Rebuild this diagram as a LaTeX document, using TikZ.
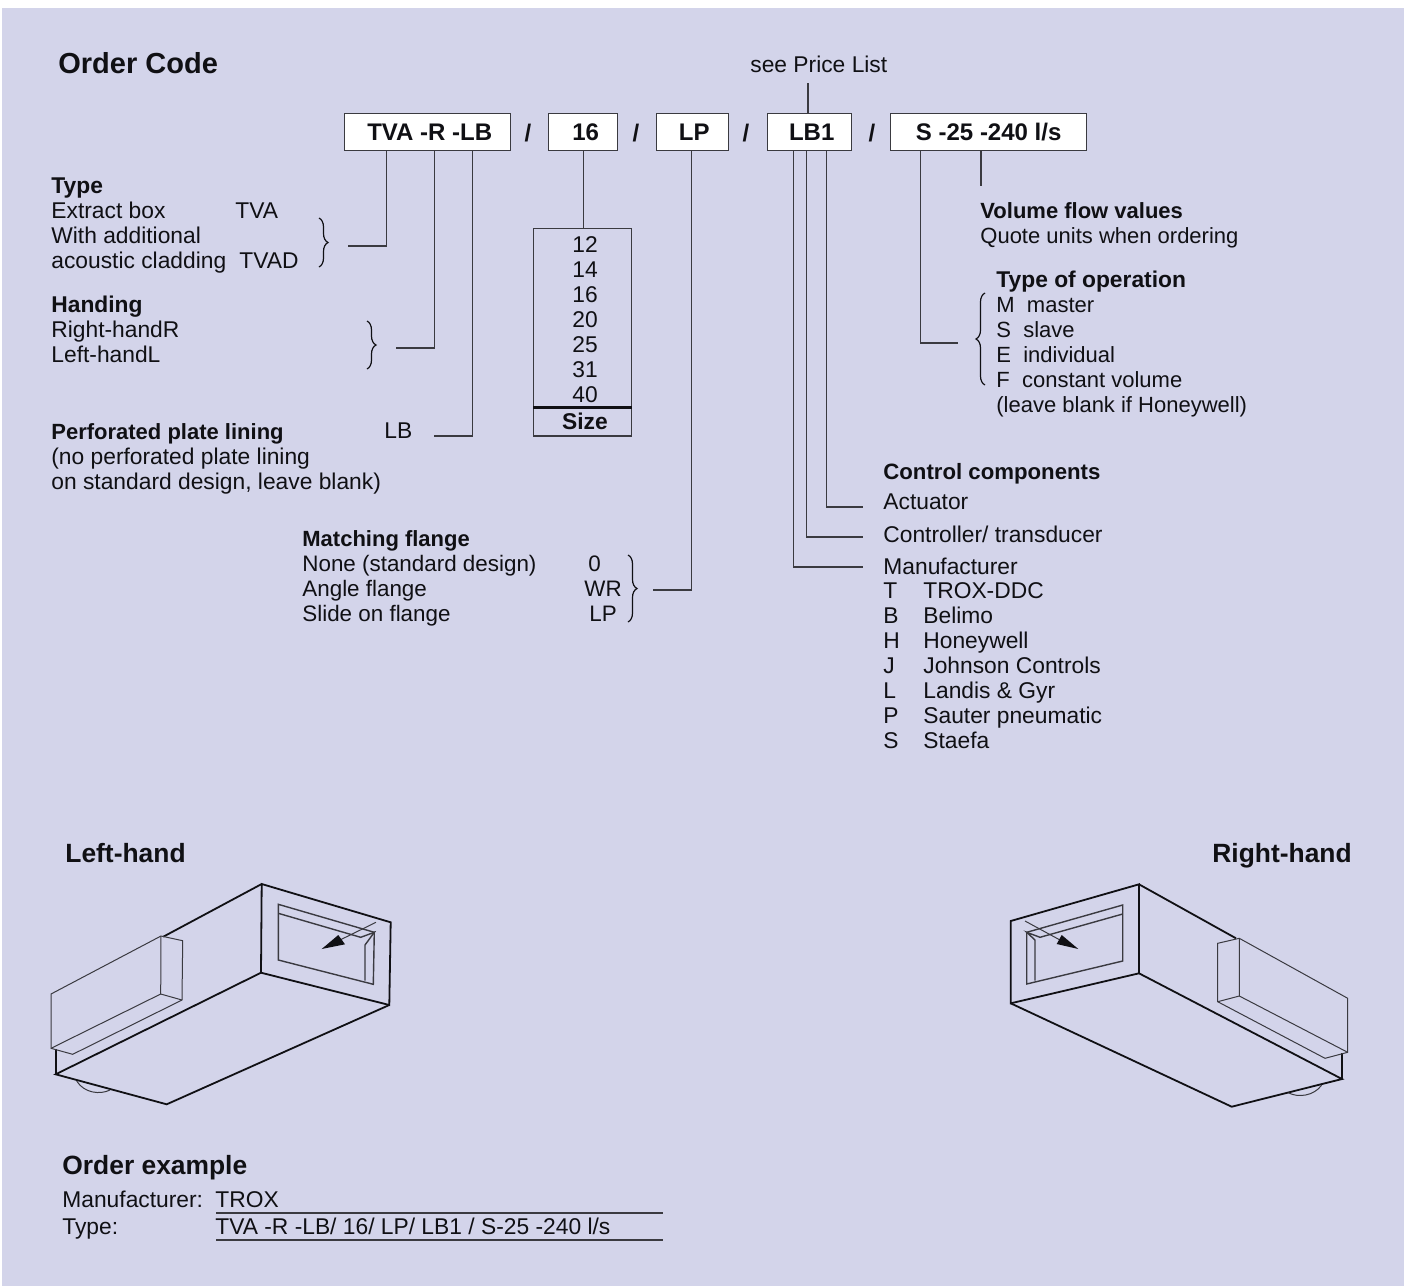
\documentclass[tikz,border=0pt]{standalone}
\usepackage{fontspec}
\setmainfont{Liberation Sans}
\usetikzlibrary{arrows.meta,positioning,decorations.pathreplacing}
\definecolor{panelblue}{HTML}{D3D4EA}
\definecolor{edgegray}{HTML}{3A3A40}
\definecolor{inkblack}{HTML}{101014}
\begin{document}
\begin{tikzpicture}[
    x=0.5pt, y=-0.5pt,
    txt/.style={anchor=base west, inner sep=0pt, align=left, text=inkblack,
      font=\fontsize{11.4}{12.5}\selectfont},
    snug/.style={txt, font=\fontsize{11}{12.5}\selectfont},
    flangetxt/.style={txt, font=\fontsize{11.2}{12.5}\selectfont},
    heading/.style={txt, font=\fontsize{14.5}{16}\selectfont\bfseries},
    subheading/.style={txt, font=\fontsize{13.2}{16}\selectfont\bfseries},
    example/.style={txt, font=\fontsize{11.4}{13}\selectfont},
    codebox/.style={draw=edgegray, line width=0.7pt, fill=white, anchor=west, inner sep=0pt,
      minimum height=18.5pt, text=inkblack, font=\fontsize{12}{14}\selectfont\bfseries},
    slash/.style={inner sep=0pt, text=inkblack, font=\fontsize{12}{14}\selectfont\bfseries},
    sizebox/.style={draw=edgegray, line width=0.7pt, anchor=north west, inner sep=0pt, minimum width=49pt},
    leader/.style={draw=edgegray, line width=0.7pt},
    bracket/.style={draw=inkblack, line width=0.6pt, decorate, decoration={brace, amplitude=4.5pt}},
    heavy/.style={draw=inkblack, line width=0.9pt},
    fine/.style={draw=edgegray, line width=0.5pt},
    pointer/.style={fill=inkblack, draw=none}
  ]
    \useasboundingbox (0,0) rectangle (1404,1286);
    \fill[panelblue] (2,8) rectangle (1404,1286);

    \node[heading] (ordercode) at (58,73) {Order Code};
    \node[txt] (pricelist) at (750,72.5) {see Price List};

    \node[codebox, minimum width=83pt] (codetype) at (344,132) {\hspace{2pt}TVA -R -LB};
    \node[slash] (slasha) at (528,133) {/};
    \node[codebox, minimum width=34.5pt] (codesize) at (548,132) {\hspace{2.5pt}16};
    \node[slash] (slashb) at (636,133) {/};
    \node[codebox, minimum width=36pt] (codeflange) at (656,132) {\hspace{1.5pt}LP};
    \node[slash] (slashc) at (746,133) {/};
    \node[codebox, minimum width=42pt] (codecontrol) at (767,132) {\hspace{2pt}LB1};
    \node[slash] (slashd) at (872,133) {/};
    \node[codebox, minimum width=98pt] (codeflow) at (890,132) {S -25 -240 l/s};

    \node[txt] (typetext) at (51,268) {{\bfseries Type}\\Extract box\\With additional\\acoustic cladding};
    \node[txt] (typetva) at (235,218) {TVA};
    \node[txt] (typetvad) at (239,268) {TVAD};
    \node[txt] (handingtext) at (51,362) {{\bfseries Handing}\\Right-handR\\Left-handL};
    \node[txt] (liningtext) at (51,489) {{\fontsize{11}{12.5}\selectfont\bfseries Perforated plate lining}\\(no perforated plate lining\\on standard design, leave blank)};
    \node[txt] (liningcode) at (384,438) {LB};

    \node[sizebox, minimum height=89pt] (sizelist) at (533,228) {};
    \node[sizebox, minimum height=14pt, below=0pt of sizelist, anchor=north] (sizefoot) {};
    \node[txt, align=center, anchor=base] (sizevalues) at (585,402.5) {12\\14\\16\\20\\25\\31\\40};
    \node[txt, anchor=base] (sizetitle) at (585,429) {\bfseries Size};
    \draw[heavy, line width=1.2pt] (sizelist.south west) -- (sizelist.south east);

    \node[flangetxt] (flangetext) at (302,621) {{\fontsize{11}{12.5}\selectfont\bfseries Matching flange}\\None (standard design)\\Angle flange\\Slide on flange};
    \node[flangetxt] (flangenone) at (588,571) {0};
    \node[flangetxt] (flangeangle) at (584,596) {WR};
    \node[flangetxt] (flangeslide) at (589,621) {LP};

    \node[snug] (flowtext) at (980,243) {{\bfseries Volume flow values}\\Quote units when ordering};
    \node[snug] (operationtext) at (996,412) {{\fontsize{11.4}{12.5}\selectfont\bfseries Type of operation}\\M\ \ master\\S\ \ slave\\E\ \ individual\\F\ \ constant volume\\(leave blank if Honeywell)};

    \node[txt] (controltitle) at (883,479) {\fontsize{11.1}{12.5}\selectfont\bfseries Control components};
    \node[txt] (actuator) at (883,509) {Actuator};
    \node[txt] (controller) at (883,542) {Controller/ transducer};
    \node[txt] (manufacturer) at (883,574) {Manufacturer};
    \node[txt] (makerletters) at (883,748) {T\\B\\H\\J\\L\\P\\S};
    \node[txt] (makernames) at (923,748) {TROX-DDC\\Belimo\\Honeywell\\Johnson Controls\\Landis \& Gyr\\Sauter pneumatic\\Staefa};

    \coordinate (typeend) at (348,246);
    \coordinate (handingend) at (396,348);
    \coordinate (liningend) at (434,436);
    \coordinate (flangeend) at (653,590);
    \coordinate (actuatorend) at (863,507);
    \coordinate (controllerend) at (863,537);
    \coordinate (makerend) at (863,567);
    \coordinate (operationend) at (958,343);
    \coordinate (flowend) at (981,186);
    \coordinate (priceend) at (808,83);

    \draw[leader] ([xshift=-20.5pt]codetype.south) |- (typeend);
    \draw[leader] ([xshift=3.5pt]codetype.south) |- (handingend);
    \draw[leader] ([xshift=22.5pt]codetype.south) |- (liningend);
    \draw[leader] (codesize.south) -- (sizelist.north -| codesize.south);
    \draw[leader] ([xshift=-0.5pt]codeflange.south) |- (flangeend);
    \draw[leader] (priceend) -- (priceend |- codecontrol.north);
    \draw[leader] ([xshift=8.5pt]codecontrol.south) |- (actuatorend);
    \draw[leader] ([xshift=-1.5pt]codecontrol.south) |- (controllerend);
    \draw[leader] ([xshift=-8pt]codecontrol.south) |- (makerend);
    \draw[leader] ([xshift=-34pt]codeflow.south) |- (operationend);
    \draw[leader] (flowend |- codeflow.south) -- (flowend);

    \draw[bracket] (319,218) -- (319,267);
    \draw[bracket] (367,321) -- (367,369);
    \draw[bracket] (628,555) -- (628,622);
    \draw[bracket] (985,385) -- (985,293);

    \node[subheading] (lefthand) at (65,862) {Left-hand};
    \node[subheading] (righthand) at (1212,862) {Right-hand};

    \draw[heavy] (261.7,884) -- (390.7,922.3) -- (389.3,1005) -- (261,972.7) -- cycle;
    \draw[heavy] (261,972.7) -- (55.7,1074.3) -- (166.7,1104.3) -- (389.3,1005);
    \draw[heavy] (261.7,884) -- (163.3,936.7);
    \draw[heavy] (55.7,1074.3) -- (55.7,1049.3);
    \draw[leader] (278.3,904.3) -- (374.3,932.3) -- (373.3,984.3) -- (278.3,960) -- cycle;
    \draw[leader] (278.3,913.3) -- (360.7,937.3) -- (374.3,932.3) -- (365,945) -- (365,980.7);
    \draw[fine] (376,922.3) -- (340,940);
    \fill[pointer] (321.7,949) -- (338.3,935) -- (345,944.3) -- cycle;
    \draw[fine] (51,994) -- (161,936) -- (182.7,940.7) -- (182,1000) -- (72.7,1054.3) -- (51,1048.3) -- cycle;
    \draw[fine] (161,936) -- (160.7,994) -- (51,1048.3);
    \draw[fine] (160.7,994) -- (182,1000);
    \draw[fine] (76.7,1081) .. controls (84,1093) and (100,1095) .. (110,1090);

    \draw[heavy] (1139,884.3) -- (1010.7,921) -- (1010.7,1003.3) -- (1139,973.3) -- cycle;
    \draw[heavy] (1139,973.3) -- (1342,1079) -- (1231.7,1106.7) -- (1010.7,1003.3);
    \draw[heavy] (1139,884.3) -- (1236,938.3);
    \draw[heavy] (1342,1079) -- (1342,1053.3);
    \draw[leader] (1122.7,905) -- (1026.7,932.3) -- (1026.7,984) -- (1122.7,961) -- cycle;
    \draw[leader] (1122.7,914) -- (1040,937.3) -- (1026.7,932.3) -- (1035,940) -- (1035,980.7);
    \draw[fine] (1025,921) -- (1060,940);
    \fill[pointer] (1078.3,949) -- (1061.7,935) -- (1056.7,944) -- cycle;
    \draw[fine] (1217.7,943.3) -- (1239.3,938.3) -- (1347.7,998.3) -- (1347.7,1052.3) -- (1325,1058.3) -- (1217.7,1001.7) -- cycle;
    \draw[fine] (1239.3,938.3) -- (1239.3,996) -- (1347.7,1052.3);
    \draw[fine] (1239.3,996) -- (1217.7,1001.7);
    \draw[fine] (1288.3,1092.7) .. controls (1298,1098) and (1314,1096) .. (1321.7,1085);

    \node[subheading] (orderexample) at (62,1174) {Order example};
    \node[example] (examplemaker) at (62,1207) {Manufacturer:};
    \node[example] (exampletype) at (62,1234) {Type:};
    \node[example] (exampletrox) at (215,1207) {TROX};
    \node[example] (examplecode) at (215,1234) {TVA -R -LB/ 16/ LP/ LB1 / S-25 -240 l/s};
    \draw[leader] (216,1213) -- (663,1213);
    \draw[leader] (216,1240) -- (663,1240);
\end{tikzpicture}
\end{document}
